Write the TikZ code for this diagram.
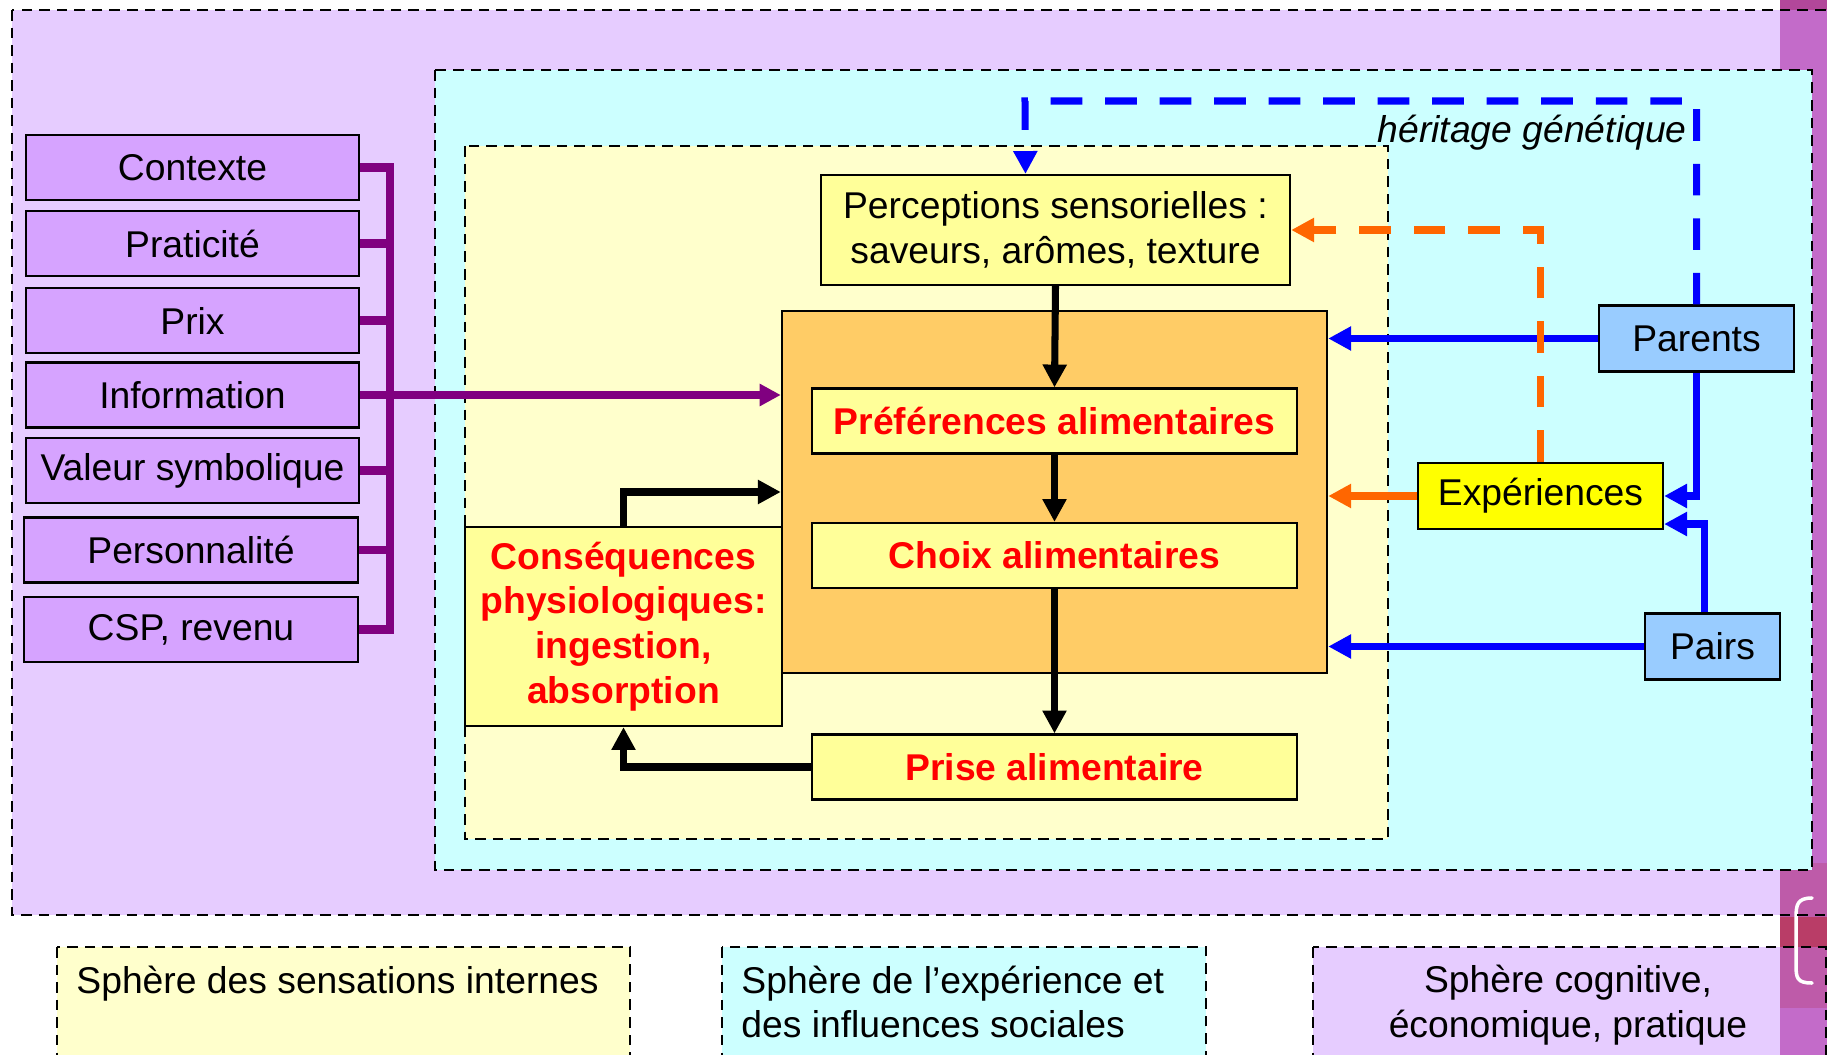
\documentclass[tikz,border=0pt]{standalone}
\usepackage{fontspec}
\setmainfont{Liberation Sans}
\usepackage{tikz}
\usepackage{xcolor}
\usetikzlibrary{arrows.meta, positioning, calc}
\definecolor{cogncol}{RGB}{230,204,255}
\definecolor{factorcol}{RGB}{214,163,255}
\definecolor{socialcol}{RGB}{204,255,255}
\definecolor{interncol}{RGB}{255,255,204}
\definecolor{corecol}{RGB}{255,204,102}
\definecolor{foodcol}{RGB}{255,255,153}
\definecolor{expcol}{RGB}{255,255,0}
\definecolor{peercol}{RGB}{153,204,255}
\definecolor{buscol}{RGB}{128,0,128}
\definecolor{orangecol}{RGB}{255,102,0}
\definecolor{stripcol}{RGB}{195,107,201}
\definecolor{stripdark}{RGB}{190,91,169}
\definecolor{stripred}{RGB}{185,61,103}
\definecolor{striptop}{RGB}{178,71,154}

\begin{document}
\begin{tikzpicture}[x=0.01cm, y=-0.01cm, font=\fontsize{10.6}{12.7}\selectfont,
    sphere/.style={draw, line width=0.6pt, dash pattern=on 3pt off 2pt},
    factor/.style={rectangle, draw, line width=0.6pt, fill=factorcol, inner sep=0pt,
                   minimum width=3.33cm, minimum height=0.65cm},
    food/.style={rectangle, draw, line width=0.6pt, fill=foodcol, inner sep=0pt,
                 minimum width=4.85cm, minimum height=0.65cm, text=red,
                 font=\fontsize{10.6}{12.7}\selectfont\bfseries},
    social/.style={rectangle, draw, line width=0.6pt, fill=peercol, inner sep=0pt,
                   minimum height=0.66cm},
    blk/.style={line width=2pt, -{Triangle[length=6.5pt, width=6.5pt]}},
    blu/.style={blue, line width=2pt, -{Triangle[length=6.5pt, width=6.5pt]}},
    orn/.style={orangecol, line width=2pt, -{Triangle[length=6.5pt, width=6.5pt]}},
    bus/.style={buscol, line width=2.3pt}]

    \useasboundingbox (0,0) rectangle (1827,1055);
    \clip (0,0) rectangle (1827,1055);
    \fill[white] (0,0) rectangle (1827,1055);

    % Spheres
    \fill[cogncol] (12,10) rectangle (1860,915);
    \fill[interncol] (57,947) rectangle (630,1070);
    \fill[socialcol] (722,947) rectangle (1206,1070);
    \fill[cogncol] (1313,947) rectangle (1860,1070);

    % Side strip
    \fill[striptop] (1780,0) rectangle (1827,10);
    \fill[stripcol] (1780,10) rectangle (1827,1055);
    \fill[stripdark] (1780,863) rectangle (1827,1008);
    \fill[stripred] (1780,917) rectangle (1827,947);
    \draw[white, line width=1pt, line cap=round] (1812,898) .. controls (1797,898) and (1796,905) .. (1796,918)
        -- (1796,965) .. controls (1796,978) and (1797,983) .. (1812,983);

    \draw[sphere] (12,10) rectangle (1860,915);
    \draw[sphere] (57,947) rectangle (630,1070);
    \draw[sphere] (722,947) rectangle (1206,1070);
    \draw[sphere] (1313,947) rectangle (1826,1070);
    \filldraw[sphere, fill=socialcol] (435,70) rectangle (1812,870);
    \filldraw[sphere, fill=interncol] (465,146) rectangle (1388,839);

    % Legend
    \node[anchor=west] (lgint) at (64,983.5) {Sphère des sensations internes};
    \node[anchor=west, align=left] (lgsoc) at (729,1002) {Sphère de l’expérience et\\des influences sociales};
    \node[align=center] (lgcog) at (1568,1005) {Sphère cognitive,\\économique, pratique};

    % Factors
    \node[factor] (ctx) at (192.5,167.5) {Contexte};
    \node[factor] (prat) at (192.5,243.5) {Praticité};
    \node[factor] (prix) at (192.5,320.5) {Prix};
    \node[factor] (info) at (192.5,395) {Information};
    \node[factor] (val) at (192.5,470.5) {Valeur symbolique};
    \node[factor] (pers) at (191,550) {Personnalité};
    \node[factor] (csp) at (191,629.5) {CSP, revenu};
    \coordinate (bus) at (390,0);

    % Core
    \node[rectangle, draw, line width=0.6pt, fill=corecol, minimum width=5.45cm,
          minimum height=3.62cm] (core) at (1054.5,492) {};
    \node[rectangle, draw, line width=0.6pt, fill=foodcol, align=center, minimum width=4.69cm,
          minimum height=1.1cm] (perc) at (1055.5,230) {Perceptions sensorielles :\\saveurs, arômes, texture};
    \node[food] (pref) at (1054.5,421) {Préférences alimentaires};
    \node[food] (choix) at (1054.5,555.5) {Choix alimentaires};
    \node[food] (prise) at (1054.5,767) {Prise alimentaire};
    \node[food, align=center, minimum width=3.17cm, minimum height=1.99cm] (cons) at (623.5,626.5)
        {Conséquences\\physiologiques:\\ingestion,\\absorption};

    % Influences
    \node[social, minimum width=1.95cm] (par) at (1696.5,338.5) {Parents};
    \node[social, fill=expcol, minimum width=2.45cm] (exp) at (1540.5,496) {Expériences};
    \node[social, minimum width=1.35cm] (pairs) at (1712.5,646.5) {Pairs};
    \node[anchor=east, font=\fontsize{10.6}{12.7}\selectfont\itshape] (herlbl) at (1699,133) {héritage génétique};
    \coordinate (her) at (1025,101);

    % Connections
    \draw[bus] (ctx.east) -| (bus |- csp.east) -- (csp.east);
    \foreach \f in {prat,prix,val,pers}
        \draw[bus] (\f.east) -- (bus |- \f.east);
    \draw[bus, -{Triangle[length=6pt, width=6pt]}] (info.east) -- (core.west |- info.east);

    \draw[blk] (perc.south) -- (pref.north);
    \draw[blk] (pref.south) -- (choix.north);
    \draw[blk] (choix.south) -- (prise.north);
    \draw[blk] (cons.north) |- (core.west);
    \draw[blk] (prise.west) -| (cons.south);

    \draw[blu] (par.west) -- (par.west -| core.east);
    \draw[blu] (pairs.west) -- (pairs.west -| core.east);
    \draw[orn] (exp.west) -- (exp.west -| core.east);
    \draw[blu] (par.south) |- (exp.east);
    \draw[blu] ([xshift=-0.08cm]pairs.north) |- ([yshift=-0.28cm]exp.east);
    \draw[blu, dash pattern=on 9pt off 6.5pt] (par.north) |- (her) -- ([xshift=-0.3cm]perc.north);
    \draw[orn, dash pattern=on 9pt off 6.5pt] (exp.north) |- (perc.east);
\end{tikzpicture}
\end{document}
